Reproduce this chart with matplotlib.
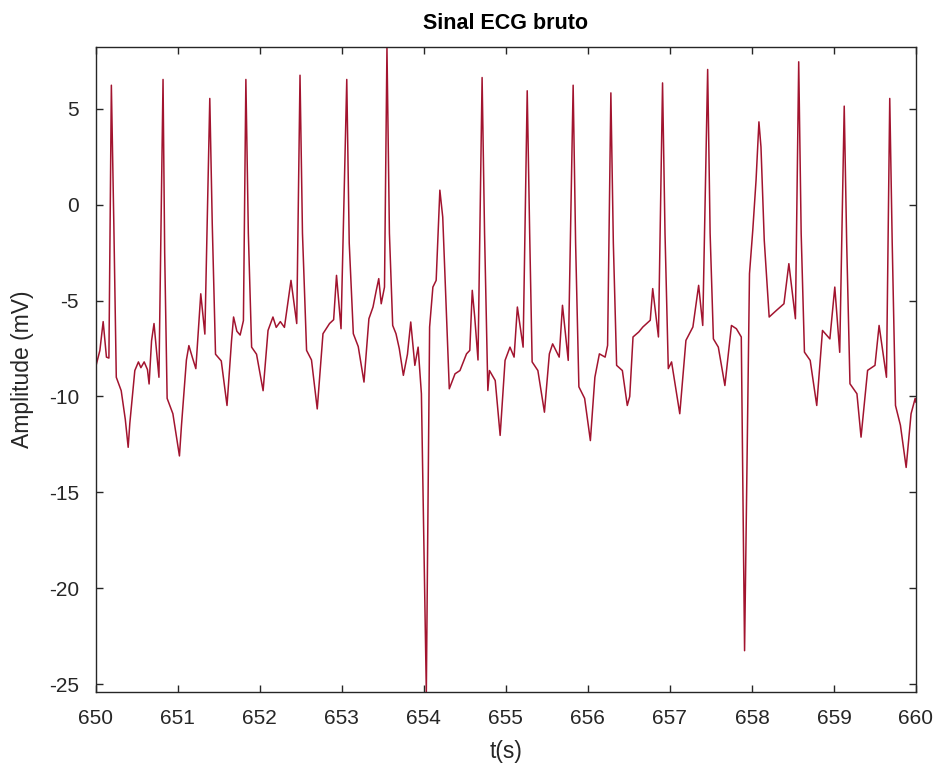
import matplotlib
matplotlib.use('Agg')
import matplotlib.pyplot as plt
import numpy as np

plt.rcParams['font.family'] = ['Liberation Sans', 'DejaVu Sans']
plt.rcParams['axes.unicode_minus'] = False

# ECG samples (time in s, amplitude in mV)
t = [650.00, 650.05, 650.09, 650.13, 650.16, 650.19, 650.22, 650.25, 650.31, 650.36, 650.395, 650.415,
     650.476, 650.52, 650.55, 650.59, 650.63, 650.65, 650.68, 650.71, 650.77, 650.82, 650.84, 650.87,
     650.94, 651.02, 651.045, 651.105, 651.135, 651.18, 651.22, 651.28, 651.33, 651.39, 651.42, 651.46,
     651.53, 651.60, 651.655, 651.68, 651.72, 651.76, 651.80, 651.83, 651.86, 651.90, 651.96, 652.04,
     652.10, 652.16, 652.20, 652.25, 652.30, 652.38, 652.45, 652.49, 652.52, 652.57, 652.63, 652.70,
     652.77, 652.85, 652.90, 652.935, 652.99, 653.06, 653.09, 653.14, 653.20, 653.27, 653.33, 653.38,
     653.42, 653.45, 653.48, 653.52, 653.55, 653.58, 653.62, 653.66, 653.70, 653.75, 653.80, 653.84,
     653.89, 653.93, 653.97, 654.03, 654.07, 654.11, 654.15, 654.195, 654.23, 654.31, 654.38, 654.44,
     654.52, 654.56, 654.59, 654.62, 654.66, 654.71, 654.74, 654.78, 654.80, 654.87, 654.93, 654.99,
     655.05, 655.10, 655.14, 655.21, 655.26, 655.29, 655.32, 655.39, 655.47, 655.53, 655.57, 655.65,
     655.69, 655.76, 655.82, 655.85, 655.89, 655.96, 656.03, 656.085, 656.14, 656.21, 656.24, 656.28,
     656.31, 656.35, 656.42, 656.48, 656.51, 656.55, 656.62, 656.67, 656.76, 656.79, 656.86, 656.91,
     656.94, 656.98, 657.02, 657.12, 657.195, 657.28, 657.35, 657.40, 657.46, 657.49, 657.53, 657.59,
     657.67, 657.75, 657.81, 657.87, 657.91, 657.97, 658.01, 658.05, 658.085, 658.11, 658.15, 658.21,
     658.30, 658.39, 658.45, 658.53, 658.57, 658.60, 658.64, 658.71, 658.79, 658.86, 658.95, 659.01,
     659.07, 659.125, 659.155, 659.195, 659.28, 659.33, 659.41, 659.50, 659.55, 659.64, 659.68, 659.71,
     659.75, 659.81, 659.88, 659.94, 659.99, 660.00]
v = [-8.45, -7.6, -6.1, -7.95, -8.0, 6.22, -1.0, -9.0, -9.7, -11.2, -12.65, -11.4,
     -8.65, -8.2, -8.5, -8.2, -8.6, -9.35, -7.1, -6.2, -9.0, 6.52, -2.5, -10.1,
     -10.9, -13.1, -11.5, -8.1, -7.35, -8.0, -8.55, -4.65, -6.75, 5.53, -1.0, -7.8,
     -8.15, -10.47, -7.1, -5.86, -6.6, -6.8, -6.05, 6.52, -1.5, -7.43, -7.8, -9.7,
     -6.56, -5.86, -6.4, -6.1, -6.4, -3.95, -6.2, 6.74, -1.5, -7.6, -8.1, -10.65,
     -6.73, -6.2, -6.0, -3.69, -6.47, 6.52, -2.0, -6.73, -7.4, -9.25, -5.95, -5.34,
     -4.47, -3.86, -5.17, -4.3, 8.2, -1.5, -6.3, -6.73, -7.5, -8.9, -7.8, -6.12,
     -8.38, -7.43, -9.86, -25.4, -6.38, -4.3, -3.95, 0.75, -0.65, -9.6, -8.82, -8.65,
     -7.78, -7.6, -4.47, -5.86, -8.1, 6.62, -1.5, -9.69, -8.65, -9.17, -12.03, -8.12,
     -7.43, -7.95, -5.34, -7.43, 5.93, -1.5, -8.2, -8.65, -10.82, -7.78, -7.26, -7.95,
     -5.25, -8.12, 6.22, -2.0, -9.5, -10.1, -12.3, -9.0, -7.78, -7.95, -7.34, 5.82,
     -2.0, -8.38, -8.65, -10.47, -10.0, -6.9, -6.64, -6.38, -6.03, -4.38, -6.9, 6.34,
     -1.5, -8.55, -8.2, -10.9, -7.08, -6.38, -4.21, -6.3, 7.04, -1.5, -7.0, -7.43,
     -9.43, -6.3, -6.47, -6.9, -23.25, -3.6, -1.34, 1.27, 4.31, 3.0, -1.86, -5.86,
     -5.51, -5.17, -3.08, -5.95, 7.44, -1.5, -7.69, -8.12, -10.47, -6.56, -7.0, -4.3,
     -7.7, 5.13, -2.0, -9.34, -9.86, -12.12, -8.64, -8.38, -6.3, -9.0, 5.53, -2.0,
     -10.47, -11.5, -13.7, -10.9, -10.1, -10.3]

t = np.array(t)
v = np.array(v)

fig = plt.figure(figsize=(9.39, 7.74), dpi=100)
ax = fig.add_axes([0.102, 0.106, 0.8735, 0.833])
ax.plot(t, v, color='#A2142F', linewidth=1.1)

ax.set_xlim(650, 660)
ax.set_ylim(v.min(), v.max())
ax.set_xticks(np.arange(650, 661, 1))
ax.set_yticks(np.arange(-25, 6, 5))

gray = '#262626'
for s in ax.spines.values():
    s.set_color(gray)
    s.set_linewidth(1.0)
ax.tick_params(direction='in', top=True, right=True, colors=gray,
               labelsize=15, length=5, width=1.0)
ax.tick_params(axis='x', pad=12)
ax.tick_params(axis='y', pad=12)
ax.set_xlabel('t(s)', fontsize=16.5, color=gray, labelpad=9)
ax.set_ylabel('Amplitude (mV)', fontsize=16.5, color=gray, labelpad=11)
ax.set_title('Sinal ECG bruto', fontsize=15.5, fontweight='bold', color='black', pad=13)

fig.savefig('out.png', dpi=100)
